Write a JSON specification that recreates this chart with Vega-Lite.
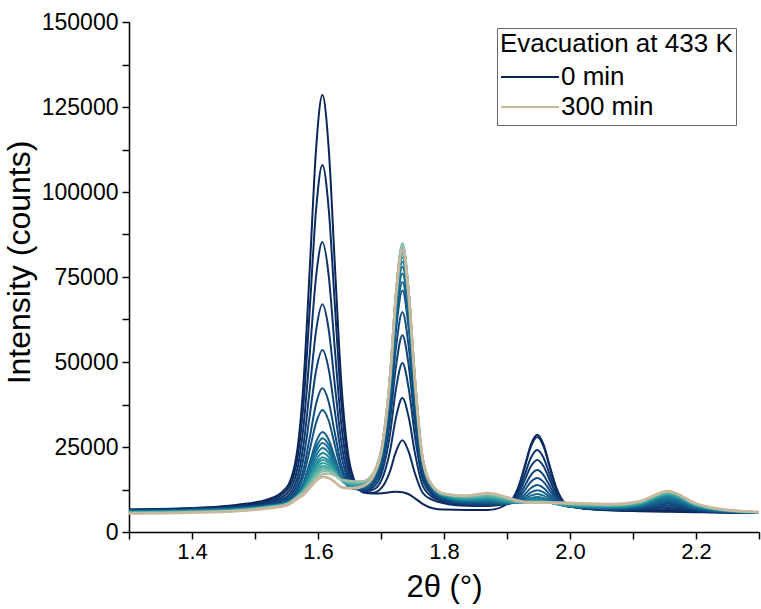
{
"$schema": "https://vega.github.io/schema/vega-lite/v6.json",
"width": 630, "height": 510,
"autosize": {"type": "none"},
"padding": {"left": 129, "top": 22, "right": 2, "bottom": 77},
"background": "white",
"config": {"view": {"stroke": null}, "font": "Liberation Sans"},
"datasets": {"curves": [
{"t":0,"x":1.3,"y":6620},{"t":0,"x":1.4,"y":7060},{"t":0,"x":1.47,"y":7970},{"t":0,"x":1.52,"y":9580},{"t":0,"x":1.55,"y":13040},{"t":0,"x":1.567,"y":23920},{"t":0,"x":1.577,"y":43870},{"t":0,"x":1.587,"y":77720},{"t":0,"x":1.597,"y":112780},{"t":0,"x":1.607,"y":128500},{"t":0,"x":1.617,"y":112780},{"t":0,"x":1.627,"y":77720},{"t":0,"x":1.637,"y":43870},{"t":0,"x":1.647,"y":23920},{"t":0,"x":1.657,"y":15460},{"t":0,"x":1.672,"y":11590},{"t":0,"x":1.688,"y":11300},{"t":0,"x":1.702,"y":11400},{"t":0,"x":1.714,"y":11700},{"t":0,"x":1.724,"y":11850},{"t":0,"x":1.734,"y":11700},{"t":0,"x":1.744,"y":11100},{"t":0,"x":1.754,"y":9900},{"t":0,"x":1.766,"y":8300},{"t":0,"x":1.782,"y":7000},{"t":0,"x":1.8,"y":6600},{"t":0,"x":1.835,"y":6500},{"t":0,"x":1.87,"y":6500},{"t":0,"x":1.9,"y":8160},{"t":0,"x":1.918,"y":13130},{"t":0,"x":1.928,"y":19320},{"t":0,"x":1.938,"y":25730},{"t":0,"x":1.948,"y":28600},{"t":0,"x":1.958,"y":25730},{"t":0,"x":1.968,"y":19320},{"t":0,"x":1.978,"y":13130},{"t":0,"x":1.993,"y":8390},{"t":0,"x":2.02,"y":6900},{"t":0,"x":2.07,"y":6300},{"t":0,"x":2.11,"y":6110},{"t":0,"x":2.156,"y":5950},{"t":0,"x":2.2,"y":5820},{"t":0,"x":2.24,"y":5710},{"t":0,"x":2.3,"y":5600},
{"t":15,"x":1.3,"y":6550},{"t":15,"x":1.4,"y":6950},{"t":15,"x":1.47,"y":7770},{"t":15,"x":1.52,"y":9210},{"t":15,"x":1.55,"y":12150},{"t":15,"x":1.567,"y":21260},{"t":15,"x":1.577,"y":37790},{"t":15,"x":1.587,"y":65850},{"t":15,"x":1.597,"y":94900},{"t":15,"x":1.607,"y":107960},{"t":15,"x":1.617,"y":95010},{"t":15,"x":1.627,"y":66070},{"t":15,"x":1.637,"y":38080},{"t":15,"x":1.647,"y":21760},{"t":15,"x":1.657,"y":14900},{"t":15,"x":1.672,"y":12010},{"t":15,"x":1.688,"y":11570},{"t":15,"x":1.702,"y":13240},{"t":15,"x":1.714,"y":17710},{"t":15,"x":1.724,"y":23780},{"t":15,"x":1.734,"y":27000},{"t":15,"x":1.744,"y":23570},{"t":15,"x":1.754,"y":17190},{"t":15,"x":1.766,"y":11550},{"t":15,"x":1.782,"y":9420},{"t":15,"x":1.8,"y":8470},{"t":15,"x":1.835,"y":7750},{"t":15,"x":1.87,"y":7640},{"t":15,"x":1.9,"y":8360},{"t":15,"x":1.918,"y":13070},{"t":15,"x":1.928,"y":18995},{"t":15,"x":1.938,"y":25187},{"t":15,"x":1.948,"y":27960},{"t":15,"x":1.958,"y":25184},{"t":15,"x":1.968,"y":18988},{"t":15,"x":1.978,"y":13013},{"t":15,"x":1.993,"y":8430},{"t":15,"x":2.02,"y":6985},{"t":15,"x":2.07,"y":6400},{"t":15,"x":2.11,"y":6265},{"t":15,"x":2.156,"y":6300},{"t":15,"x":2.2,"y":5940},{"t":15,"x":2.24,"y":5750},{"t":15,"x":2.3,"y":5615},
{"t":30,"x":1.3,"y":6480},{"t":30,"x":1.4,"y":6830},{"t":30,"x":1.47,"y":7550},{"t":30,"x":1.52,"y":8800},{"t":30,"x":1.55,"y":11150},{"t":30,"x":1.567,"y":18290},{"t":30,"x":1.577,"y":31070},{"t":30,"x":1.587,"y":52740},{"t":30,"x":1.597,"y":75170},{"t":30,"x":1.607,"y":85300},{"t":30,"x":1.617,"y":75380},{"t":30,"x":1.627,"y":53150},{"t":30,"x":1.637,"y":31600},{"t":30,"x":1.647,"y":19200},{"t":30,"x":1.657,"y":14050},{"t":30,"x":1.672,"y":12060},{"t":30,"x":1.688,"y":12480},{"t":30,"x":1.702,"y":15740},{"t":30,"x":1.714,"y":23530},{"t":30,"x":1.724,"y":33900},{"t":30,"x":1.734,"y":39400},{"t":30,"x":1.744,"y":33730},{"t":30,"x":1.754,"y":23100},{"t":30,"x":1.766,"y":13710},{"t":30,"x":1.782,"y":10220},{"t":30,"x":1.8,"y":8870},{"t":30,"x":1.835,"y":7970},{"t":30,"x":1.87,"y":7810},{"t":30,"x":1.9,"y":8290},{"t":30,"x":1.918,"y":12030},{"t":30,"x":1.928,"y":16810},{"t":30,"x":1.938,"y":21840},{"t":30,"x":1.948,"y":24100},{"t":30,"x":1.958,"y":21840},{"t":30,"x":1.968,"y":16800},{"t":30,"x":1.978,"y":11930},{"t":30,"x":1.993,"y":8190},{"t":30,"x":2.02,"y":6980},{"t":30,"x":2.07,"y":6480},{"t":30,"x":2.11,"y":6450},{"t":30,"x":2.156,"y":6800},{"t":30,"x":2.2,"y":6130},{"t":30,"x":2.24,"y":5810},{"t":30,"x":2.3,"y":5630},
{"t":45,"x":1.3,"y":6410},{"t":45,"x":1.4,"y":6730},{"t":45,"x":1.47,"y":7370},{"t":45,"x":1.52,"y":8460},{"t":45,"x":1.55,"y":10340},{"t":45,"x":1.567,"y":15910},{"t":45,"x":1.577,"y":25650},{"t":45,"x":1.587,"y":42160},{"t":45,"x":1.597,"y":59250},{"t":45,"x":1.607,"y":67000},{"t":45,"x":1.617,"y":59550},{"t":45,"x":1.627,"y":42750},{"t":45,"x":1.637,"y":26420},{"t":45,"x":1.647,"y":17180},{"t":45,"x":1.657,"y":13400},{"t":45,"x":1.672,"y":12150},{"t":45,"x":1.688,"y":13260},{"t":45,"x":1.702,"y":17820},{"t":45,"x":1.714,"y":28360},{"t":45,"x":1.724,"y":42310},{"t":45,"x":1.734,"y":49700},{"t":45,"x":1.744,"y":42170},{"t":45,"x":1.754,"y":28010},{"t":45,"x":1.766,"y":15510},{"t":45,"x":1.782,"y":10890},{"t":45,"x":1.8,"y":9210},{"t":45,"x":1.835,"y":8170},{"t":45,"x":1.87,"y":8000},{"t":45,"x":1.9,"y":8290},{"t":45,"x":1.918,"y":11270},{"t":45,"x":1.928,"y":15180},{"t":45,"x":1.938,"y":19340},{"t":45,"x":1.948,"y":21200},{"t":45,"x":1.958,"y":19330},{"t":45,"x":1.968,"y":15160},{"t":45,"x":1.978,"y":11130},{"t":45,"x":1.993,"y":8030},{"t":45,"x":2.02,"y":7010},{"t":45,"x":2.07,"y":6560},{"t":45,"x":2.11,"y":6640},{"t":45,"x":2.156,"y":7300},{"t":45,"x":2.2,"y":6320},{"t":45,"x":2.24,"y":5870},{"t":45,"x":2.3,"y":5645},
{"t":60,"x":1.3,"y":6345},{"t":60,"x":1.4,"y":6630},{"t":60,"x":1.47,"y":7220},{"t":60,"x":1.52,"y":8200},{"t":60,"x":1.55,"y":9750},{"t":60,"x":1.567,"y":14170},{"t":60,"x":1.577,"y":21670},{"t":60,"x":1.587,"y":34360},{"t":60,"x":1.597,"y":47490},{"t":60,"x":1.607,"y":53500},{"t":60,"x":1.617,"y":47870},{"t":60,"x":1.627,"y":35120},{"t":60,"x":1.637,"y":22660},{"t":60,"x":1.647,"y":15770},{"t":60,"x":1.657,"y":13010},{"t":60,"x":1.672,"y":12300},{"t":60,"x":1.688,"y":13930},{"t":60,"x":1.702,"y":19520},{"t":60,"x":1.714,"y":32240},{"t":60,"x":1.724,"y":49020},{"t":60,"x":1.734,"y":57900},{"t":60,"x":1.744,"y":48900},{"t":60,"x":1.754,"y":31930},{"t":60,"x":1.766,"y":16950},{"t":60,"x":1.782,"y":11430},{"t":60,"x":1.8,"y":9500},{"t":60,"x":1.835,"y":8360},{"t":60,"x":1.87,"y":8190},{"t":60,"x":1.9,"y":8270},{"t":60,"x":1.918,"y":10480},{"t":60,"x":1.928,"y":13500},{"t":60,"x":1.938,"y":16740},{"t":60,"x":1.948,"y":18200},{"t":60,"x":1.958,"y":16730},{"t":60,"x":1.968,"y":13460},{"t":60,"x":1.978,"y":10310},{"t":60,"x":1.993,"y":7860},{"t":60,"x":2.02,"y":7030},{"t":60,"x":2.07,"y":6650},{"t":60,"x":2.11,"y":6840},{"t":60,"x":2.156,"y":7800},{"t":60,"x":2.2,"y":6510},{"t":60,"x":2.24,"y":5930},{"t":60,"x":2.3,"y":5660},
{"t":75,"x":1.3,"y":6280},{"t":75,"x":1.4,"y":6550},{"t":75,"x":1.47,"y":7090},{"t":75,"x":1.52,"y":7980},{"t":75,"x":1.55,"y":9250},{"t":75,"x":1.567,"y":12740},{"t":75,"x":1.577,"y":18370},{"t":75,"x":1.587,"y":27900},{"t":75,"x":1.597,"y":37740},{"t":75,"x":1.607,"y":42300},{"t":75,"x":1.617,"y":38210},{"t":75,"x":1.627,"y":28830},{"t":75,"x":1.637,"y":19580},{"t":75,"x":1.647,"y":14650},{"t":75,"x":1.657,"y":12720},{"t":75,"x":1.672,"y":12450},{"t":75,"x":1.688,"y":14500},{"t":75,"x":1.702,"y":20930},{"t":75,"x":1.714,"y":35440},{"t":75,"x":1.724,"y":54570},{"t":75,"x":1.734,"y":64700},{"t":75,"x":1.744,"y":54460},{"t":75,"x":1.754,"y":35170},{"t":75,"x":1.766,"y":18150},{"t":75,"x":1.782,"y":11890},{"t":75,"x":1.8,"y":9750},{"t":75,"x":1.835,"y":8540},{"t":75,"x":1.87,"y":8380},{"t":75,"x":1.9,"y":8280},{"t":75,"x":1.918,"y":9900},{"t":75,"x":1.928,"y":12210},{"t":75,"x":1.938,"y":14760},{"t":75,"x":1.948,"y":15900},{"t":75,"x":1.958,"y":14740},{"t":75,"x":1.968,"y":12180},{"t":75,"x":1.978,"y":9690},{"t":75,"x":1.993,"y":7760},{"t":75,"x":2.02,"y":7080},{"t":75,"x":2.07,"y":6740},{"t":75,"x":2.11,"y":7030},{"t":75,"x":2.156,"y":8300},{"t":75,"x":2.2,"y":6700},{"t":75,"x":2.24,"y":5990},{"t":75,"x":2.3,"y":5680},
{"t":90,"x":1.3,"y":6230},{"t":90,"x":1.4,"y":6480},{"t":90,"x":1.47,"y":6990},{"t":90,"x":1.52,"y":7850},{"t":90,"x":1.55,"y":8980},{"t":90,"x":1.567,"y":11950},{"t":90,"x":1.577,"y":16520},{"t":90,"x":1.587,"y":24210},{"t":90,"x":1.597,"y":32160},{"t":90,"x":1.607,"y":35900},{"t":90,"x":1.617,"y":32720},{"t":90,"x":1.627,"y":25310},{"t":90,"x":1.637,"y":17940},{"t":90,"x":1.647,"y":14160},{"t":90,"x":1.657,"y":12730},{"t":90,"x":1.672,"y":12720},{"t":90,"x":1.688,"y":15120},{"t":90,"x":1.702,"y":22300},{"t":90,"x":1.714,"y":38450},{"t":90,"x":1.724,"y":59730},{"t":90,"x":1.734,"y":71000},{"t":90,"x":1.744,"y":59630},{"t":90,"x":1.754,"y":38190},{"t":90,"x":1.766,"y":19270},{"t":90,"x":1.782,"y":12330},{"t":90,"x":1.8,"y":9990},{"t":90,"x":1.835,"y":8730},{"t":90,"x":1.87,"y":8590},{"t":90,"x":1.9,"y":8330},{"t":90,"x":1.918,"y":9370},{"t":90,"x":1.928,"y":11050},{"t":90,"x":1.938,"y":12950},{"t":90,"x":1.948,"y":13800},{"t":90,"x":1.958,"y":12930},{"t":90,"x":1.968,"y":11000},{"t":90,"x":1.978,"y":9140},{"t":90,"x":1.993,"y":7670},{"t":90,"x":2.02,"y":7120},{"t":90,"x":2.07,"y":6830},{"t":90,"x":2.11,"y":7200},{"t":90,"x":2.156,"y":8700},{"t":90,"x":2.2,"y":6860},{"t":90,"x":2.24,"y":6040},{"t":90,"x":2.3,"y":5690},
{"t":105,"x":1.3,"y":6170},{"t":105,"x":1.4,"y":6410},{"t":105,"x":1.47,"y":6890},{"t":105,"x":1.52,"y":7710},{"t":105,"x":1.55,"y":8690},{"t":105,"x":1.567,"y":11150},{"t":105,"x":1.577,"y":14630},{"t":105,"x":1.587,"y":20470},{"t":105,"x":1.597,"y":26500},{"t":105,"x":1.607,"y":29400},{"t":105,"x":1.617,"y":27130},{"t":105,"x":1.627,"y":21720},{"t":105,"x":1.637,"y":16240},{"t":105,"x":1.647,"y":13580},{"t":105,"x":1.657,"y":12620},{"t":105,"x":1.672,"y":12810},{"t":105,"x":1.688,"y":15350},{"t":105,"x":1.702,"y":22830},{"t":105,"x":1.714,"y":39640},{"t":105,"x":1.724,"y":61780},{"t":105,"x":1.734,"y":73500},{"t":105,"x":1.744,"y":61680},{"t":105,"x":1.754,"y":39390},{"t":105,"x":1.766,"y":19720},{"t":105,"x":1.782,"y":12500},{"t":105,"x":1.8,"y":10120},{"t":105,"x":1.835,"y":8870},{"t":105,"x":1.87,"y":8770},{"t":105,"x":1.9,"y":8380},{"t":105,"x":1.918,"y":9020},{"t":105,"x":1.928,"y":10230},{"t":105,"x":1.938,"y":11660},{"t":105,"x":1.948,"y":12300},{"t":105,"x":1.958,"y":11640},{"t":105,"x":1.968,"y":10180},{"t":105,"x":1.978,"y":8760},{"t":105,"x":1.993,"y":7630},{"t":105,"x":2.02,"y":7180},{"t":105,"x":2.07,"y":6920},{"t":105,"x":2.11,"y":7370},{"t":105,"x":2.156,"y":9100},{"t":105,"x":2.2,"y":7020},{"t":105,"x":2.24,"y":6100},{"t":105,"x":2.3,"y":5710},
{"t":120,"x":1.3,"y":6120},{"t":120,"x":1.4,"y":6350},{"t":120,"x":1.47,"y":6830},{"t":120,"x":1.52,"y":7650},{"t":120,"x":1.55,"y":8610},{"t":120,"x":1.567,"y":10970},{"t":120,"x":1.577,"y":14140},{"t":120,"x":1.587,"y":19440},{"t":120,"x":1.597,"y":24920},{"t":120,"x":1.607,"y":27600},{"t":120,"x":1.617,"y":25630},{"t":120,"x":1.627,"y":20840},{"t":120,"x":1.637,"y":15940},{"t":120,"x":1.647,"y":13640},{"t":120,"x":1.657,"y":12810},{"t":120,"x":1.672,"y":13050},{"t":120,"x":1.688,"y":15680},{"t":120,"x":1.702,"y":23430},{"t":120,"x":1.714,"y":40860},{"t":120,"x":1.724,"y":63840},{"t":120,"x":1.734,"y":76000},{"t":120,"x":1.744,"y":63730},{"t":120,"x":1.754,"y":40600},{"t":120,"x":1.766,"y":20190},{"t":120,"x":1.782,"y":12700},{"t":120,"x":1.8,"y":10270},{"t":120,"x":1.835,"y":9030},{"t":120,"x":1.87,"y":8970},{"t":120,"x":1.9,"y":8480},{"t":120,"x":1.918,"y":8790},{"t":120,"x":1.928,"y":9640},{"t":120,"x":1.938,"y":10720},{"t":120,"x":1.948,"y":11200},{"t":120,"x":1.958,"y":10690},{"t":120,"x":1.968,"y":9580},{"t":120,"x":1.978,"y":8510},{"t":120,"x":1.993,"y":7640},{"t":120,"x":2.02,"y":7260},{"t":120,"x":2.07,"y":7020},{"t":120,"x":2.11,"y":7540},{"t":120,"x":2.156,"y":9500},{"t":120,"x":2.2,"y":7180},{"t":120,"x":2.24,"y":6150},{"t":120,"x":2.3,"y":5720},
{"t":135,"x":1.3,"y":6070},{"t":135,"x":1.4,"y":6300},{"t":135,"x":1.47,"y":6770},{"t":135,"x":1.52,"y":7600},{"t":135,"x":1.55,"y":8550},{"t":135,"x":1.567,"y":10850},{"t":135,"x":1.577,"y":13780},{"t":135,"x":1.587,"y":18660},{"t":135,"x":1.597,"y":23700},{"t":135,"x":1.607,"y":26200},{"t":135,"x":1.617,"y":24480},{"t":135,"x":1.627,"y":20200},{"t":135,"x":1.637,"y":15770},{"t":135,"x":1.647,"y":13740},{"t":135,"x":1.657,"y":13010},{"t":135,"x":1.672,"y":13280},{"t":135,"x":1.688,"y":15960},{"t":135,"x":1.702,"y":23910},{"t":135,"x":1.714,"y":41840},{"t":135,"x":1.724,"y":65480},{"t":135,"x":1.734,"y":78000},{"t":135,"x":1.744,"y":65370},{"t":135,"x":1.754,"y":41570},{"t":135,"x":1.766,"y":20560},{"t":135,"x":1.782,"y":12870},{"t":135,"x":1.8,"y":10400},{"t":135,"x":1.835,"y":9180},{"t":135,"x":1.87,"y":9180},{"t":135,"x":1.9,"y":8570},{"t":135,"x":1.918,"y":8620},{"t":135,"x":1.928,"y":9170},{"t":135,"x":1.938,"y":9950},{"t":135,"x":1.948,"y":10300},{"t":135,"x":1.958,"y":9930},{"t":135,"x":1.968,"y":9110},{"t":135,"x":1.978,"y":8310},{"t":135,"x":1.993,"y":7660},{"t":135,"x":2.02,"y":7340},{"t":135,"x":2.07,"y":7120},{"t":135,"x":2.11,"y":7710},{"t":135,"x":2.156,"y":9900},{"t":135,"x":2.2,"y":7340},{"t":135,"x":2.24,"y":6210},{"t":135,"x":2.3,"y":5730},
{"t":150,"x":1.3,"y":6010},{"t":150,"x":1.4,"y":6240},{"t":150,"x":1.47,"y":6710},{"t":150,"x":1.52,"y":7550},{"t":150,"x":1.55,"y":8480},{"t":150,"x":1.567,"y":10720},{"t":150,"x":1.577,"y":13390},{"t":150,"x":1.587,"y":17810},{"t":150,"x":1.597,"y":22380},{"t":150,"x":1.607,"y":24700},{"t":150,"x":1.617,"y":23250},{"t":150,"x":1.627,"y":19500},{"t":150,"x":1.637,"y":15560},{"t":150,"x":1.647,"y":13820},{"t":150,"x":1.657,"y":13190},{"t":150,"x":1.672,"y":13480},{"t":150,"x":1.688,"y":16180},{"t":150,"x":1.702,"y":24290},{"t":150,"x":1.714,"y":42580},{"t":150,"x":1.724,"y":66720},{"t":150,"x":1.734,"y":79500},{"t":150,"x":1.744,"y":66600},{"t":150,"x":1.754,"y":42300},{"t":150,"x":1.766,"y":20840},{"t":150,"x":1.782,"y":12990},{"t":150,"x":1.8,"y":10510},{"t":150,"x":1.835,"y":9330},{"t":150,"x":1.87,"y":9380},{"t":150,"x":1.9,"y":8700},{"t":150,"x":1.918,"y":8560},{"t":150,"x":1.928,"y":8940},{"t":150,"x":1.938,"y":9530},{"t":150,"x":1.948,"y":9800},{"t":150,"x":1.958,"y":9500},{"t":150,"x":1.968,"y":8860},{"t":150,"x":1.978,"y":8240},{"t":150,"x":1.993,"y":7710},{"t":150,"x":2.02,"y":7420},{"t":150,"x":2.07,"y":7220},{"t":150,"x":2.11,"y":7850},{"t":150,"x":2.156,"y":10200},{"t":150,"x":2.2,"y":7460},{"t":150,"x":2.24,"y":6260},{"t":150,"x":2.3,"y":5750},
{"t":165,"x":1.3,"y":5960},{"t":165,"x":1.4,"y":6190},{"t":165,"x":1.47,"y":6650},{"t":165,"x":1.52,"y":7490},{"t":165,"x":1.55,"y":8410},{"t":165,"x":1.567,"y":10580},{"t":165,"x":1.577,"y":13000},{"t":165,"x":1.587,"y":16970},{"t":165,"x":1.597,"y":21080},{"t":165,"x":1.607,"y":23200},{"t":165,"x":1.617,"y":22020},{"t":165,"x":1.627,"y":18810},{"t":165,"x":1.637,"y":15350},{"t":165,"x":1.647,"y":13890},{"t":165,"x":1.657,"y":13370},{"t":165,"x":1.672,"y":13680},{"t":165,"x":1.688,"y":16390},{"t":165,"x":1.702,"y":24620},{"t":165,"x":1.714,"y":43230},{"t":165,"x":1.724,"y":67790},{"t":165,"x":1.734,"y":80800},{"t":165,"x":1.744,"y":67670},{"t":165,"x":1.754,"y":42930},{"t":165,"x":1.766,"y":21100},{"t":165,"x":1.782,"y":13100},{"t":165,"x":1.8,"y":10620},{"t":165,"x":1.835,"y":9480},{"t":165,"x":1.87,"y":9600},{"t":165,"x":1.9,"y":8850},{"t":165,"x":1.918,"y":8570},{"t":165,"x":1.928,"y":8810},{"t":165,"x":1.938,"y":9290},{"t":165,"x":1.948,"y":9500},{"t":165,"x":1.958,"y":9250},{"t":165,"x":1.968,"y":8730},{"t":165,"x":1.978,"y":8220},{"t":165,"x":1.993,"y":7780},{"t":165,"x":2.02,"y":7520},{"t":165,"x":2.07,"y":7320},{"t":165,"x":2.11,"y":8000},{"t":165,"x":2.156,"y":10500},{"t":165,"x":2.2,"y":7590},{"t":165,"x":2.24,"y":6310},{"t":165,"x":2.3,"y":5760},
{"t":180,"x":1.3,"y":5910},{"t":180,"x":1.4,"y":6130},{"t":180,"x":1.47,"y":6600},{"t":180,"x":1.52,"y":7440},{"t":180,"x":1.55,"y":8360},{"t":180,"x":1.567,"y":10490},{"t":180,"x":1.577,"y":12700},{"t":180,"x":1.587,"y":16290},{"t":180,"x":1.597,"y":20030},{"t":180,"x":1.607,"y":22000},{"t":180,"x":1.617,"y":21040},{"t":180,"x":1.627,"y":18280},{"t":180,"x":1.637,"y":15230},{"t":180,"x":1.647,"y":14000},{"t":180,"x":1.657,"y":13560},{"t":180,"x":1.672,"y":13860},{"t":180,"x":1.688,"y":16570},{"t":180,"x":1.702,"y":24890},{"t":180,"x":1.714,"y":43730},{"t":180,"x":1.724,"y":68620},{"t":180,"x":1.734,"y":81800},{"t":180,"x":1.744,"y":68490},{"t":180,"x":1.754,"y":43420},{"t":180,"x":1.766,"y":21290},{"t":180,"x":1.782,"y":13200},{"t":180,"x":1.8,"y":10720},{"t":180,"x":1.835,"y":9620},{"t":180,"x":1.87,"y":9810},{"t":180,"x":1.9,"y":9000},{"t":180,"x":1.918,"y":8600},{"t":180,"x":1.928,"y":8750},{"t":180,"x":1.938,"y":9130},{"t":180,"x":1.948,"y":9300},{"t":180,"x":1.958,"y":9090},{"t":180,"x":1.968,"y":8660},{"t":180,"x":1.978,"y":8240},{"t":180,"x":1.993,"y":7860},{"t":180,"x":2.02,"y":7610},{"t":180,"x":2.07,"y":7420},{"t":180,"x":2.11,"y":8150},{"t":180,"x":2.156,"y":10800},{"t":180,"x":2.2,"y":7720},{"t":180,"x":2.24,"y":6360},{"t":180,"x":2.3,"y":5770},
{"t":195,"x":1.3,"y":5860},{"t":195,"x":1.4,"y":6080},{"t":195,"x":1.47,"y":6540},{"t":195,"x":1.52,"y":7400},{"t":195,"x":1.55,"y":8320},{"t":195,"x":1.567,"y":10440},{"t":195,"x":1.577,"y":12510},{"t":195,"x":1.587,"y":15850},{"t":195,"x":1.597,"y":19320},{"t":195,"x":1.607,"y":21200},{"t":195,"x":1.617,"y":20400},{"t":195,"x":1.627,"y":17980},{"t":195,"x":1.637,"y":15220},{"t":195,"x":1.647,"y":14170},{"t":195,"x":1.657,"y":13760},{"t":195,"x":1.672,"y":14040},{"t":195,"x":1.688,"y":16740},{"t":195,"x":1.702,"y":25120},{"t":195,"x":1.714,"y":44140},{"t":195,"x":1.724,"y":69290},{"t":195,"x":1.734,"y":82600},{"t":195,"x":1.744,"y":69150},{"t":195,"x":1.754,"y":43810},{"t":195,"x":1.766,"y":21460},{"t":195,"x":1.782,"y":13270},{"t":195,"x":1.8,"y":10820},{"t":195,"x":1.835,"y":9770},{"t":195,"x":1.87,"y":10020},{"t":195,"x":1.9,"y":9150},{"t":195,"x":1.918,"y":8640},{"t":195,"x":1.928,"y":8690},{"t":195,"x":1.938,"y":8970},{"t":195,"x":1.948,"y":9100},{"t":195,"x":1.958,"y":8930},{"t":195,"x":1.968,"y":8590},{"t":195,"x":1.978,"y":8250},{"t":195,"x":1.993,"y":7940},{"t":195,"x":2.02,"y":7710},{"t":195,"x":2.07,"y":7520},{"t":195,"x":2.11,"y":8270},{"t":195,"x":2.156,"y":11000},{"t":195,"x":2.2,"y":7820},{"t":195,"x":2.24,"y":6400},{"t":195,"x":2.3,"y":5780},
{"t":210,"x":1.3,"y":5810},{"t":210,"x":1.4,"y":6030},{"t":210,"x":1.47,"y":6490},{"t":210,"x":1.52,"y":7350},{"t":210,"x":1.55,"y":8280},{"t":210,"x":1.567,"y":10390},{"t":210,"x":1.577,"y":12300},{"t":210,"x":1.587,"y":15350},{"t":210,"x":1.597,"y":18530},{"t":210,"x":1.607,"y":20300},{"t":210,"x":1.617,"y":19690},{"t":210,"x":1.627,"y":17620},{"t":210,"x":1.637,"y":15190},{"t":210,"x":1.647,"y":14320},{"t":210,"x":1.657,"y":13960},{"t":210,"x":1.672,"y":14220},{"t":210,"x":1.688,"y":16900},{"t":210,"x":1.702,"y":25320},{"t":210,"x":1.714,"y":44500},{"t":210,"x":1.724,"y":69870},{"t":210,"x":1.734,"y":83300},{"t":210,"x":1.744,"y":69720},{"t":210,"x":1.754,"y":44160},{"t":210,"x":1.766,"y":21600},{"t":210,"x":1.782,"y":13350},{"t":210,"x":1.8,"y":10910},{"t":210,"x":1.835,"y":9910},{"t":210,"x":1.87,"y":10240},{"t":210,"x":1.9,"y":9300},{"t":210,"x":1.918,"y":8700},{"t":210,"x":1.928,"y":8680},{"t":210,"x":1.938,"y":8900},{"t":210,"x":1.948,"y":9000},{"t":210,"x":1.958,"y":8860},{"t":210,"x":1.968,"y":8570},{"t":210,"x":1.978,"y":8300},{"t":210,"x":1.993,"y":8030},{"t":210,"x":2.02,"y":7810},{"t":210,"x":2.07,"y":7620},{"t":210,"x":2.11,"y":8390},{"t":210,"x":2.156,"y":11200},{"t":210,"x":2.2,"y":7920},{"t":210,"x":2.24,"y":6450},{"t":210,"x":2.3,"y":5800},
{"t":225,"x":1.3,"y":5760},{"t":225,"x":1.4,"y":5970},{"t":225,"x":1.47,"y":6430},{"t":225,"x":1.52,"y":7310},{"t":225,"x":1.55,"y":8240},{"t":225,"x":1.567,"y":10350},{"t":225,"x":1.577,"y":12110},{"t":225,"x":1.587,"y":14900},{"t":225,"x":1.597,"y":17830},{"t":225,"x":1.607,"y":19500},{"t":225,"x":1.617,"y":19060},{"t":225,"x":1.627,"y":17320},{"t":225,"x":1.637,"y":15180},{"t":225,"x":1.647,"y":14470},{"t":225,"x":1.657,"y":14160},{"t":225,"x":1.672,"y":14410},{"t":225,"x":1.688,"y":17050},{"t":225,"x":1.702,"y":25510},{"t":225,"x":1.714,"y":44820},{"t":225,"x":1.724,"y":70360},{"t":225,"x":1.734,"y":83900},{"t":225,"x":1.744,"y":70220},{"t":225,"x":1.754,"y":44460},{"t":225,"x":1.766,"y":21730},{"t":225,"x":1.782,"y":13420},{"t":225,"x":1.8,"y":11000},{"t":225,"x":1.835,"y":10050},{"t":225,"x":1.87,"y":10450},{"t":225,"x":1.9,"y":9450},{"t":225,"x":1.918,"y":8770},{"t":225,"x":1.928,"y":8680},{"t":225,"x":1.938,"y":8830},{"t":225,"x":1.948,"y":8900},{"t":225,"x":1.958,"y":8790},{"t":225,"x":1.968,"y":8560},{"t":225,"x":1.978,"y":8340},{"t":225,"x":1.993,"y":8120},{"t":225,"x":2.02,"y":7900},{"t":225,"x":2.07,"y":7720},{"t":225,"x":2.11,"y":8500},{"t":225,"x":2.156,"y":11400},{"t":225,"x":2.2,"y":8010},{"t":225,"x":2.24,"y":6490},{"t":225,"x":2.3,"y":5810},
{"t":240,"x":1.3,"y":5710},{"t":240,"x":1.4,"y":5920},{"t":240,"x":1.47,"y":6380},{"t":240,"x":1.52,"y":7270},{"t":240,"x":1.55,"y":8220},{"t":240,"x":1.567,"y":10340},{"t":240,"x":1.577,"y":12020},{"t":240,"x":1.587,"y":14640},{"t":240,"x":1.597,"y":17390},{"t":240,"x":1.607,"y":19000},{"t":240,"x":1.617,"y":18690},{"t":240,"x":1.627,"y":17200},{"t":240,"x":1.637,"y":15260},{"t":240,"x":1.647,"y":14670},{"t":240,"x":1.657,"y":14380},{"t":240,"x":1.672,"y":14590},{"t":240,"x":1.688,"y":17210},{"t":240,"x":1.702,"y":25680},{"t":240,"x":1.714,"y":45100},{"t":240,"x":1.724,"y":70800},{"t":240,"x":1.734,"y":84400},{"t":240,"x":1.744,"y":70640},{"t":240,"x":1.754,"y":44720},{"t":240,"x":1.766,"y":21850},{"t":240,"x":1.782,"y":13480},{"t":240,"x":1.8,"y":11080},{"t":240,"x":1.835,"y":10200},{"t":240,"x":1.87,"y":10660},{"t":240,"x":1.9,"y":9610},{"t":240,"x":1.918,"y":8830},{"t":240,"x":1.928,"y":8670},{"t":240,"x":1.938,"y":8760},{"t":240,"x":1.948,"y":8800},{"t":240,"x":1.958,"y":8710},{"t":240,"x":1.968,"y":8550},{"t":240,"x":1.978,"y":8390},{"t":240,"x":1.993,"y":8210},{"t":240,"x":2.02,"y":8000},{"t":240,"x":2.07,"y":7810},{"t":240,"x":2.11,"y":8620},{"t":240,"x":2.156,"y":11600},{"t":240,"x":2.2,"y":8110},{"t":240,"x":2.24,"y":6540},{"t":240,"x":2.3,"y":5820},
{"t":255,"x":1.3,"y":5660},{"t":255,"x":1.4,"y":5870},{"t":255,"x":1.47,"y":6320},{"t":255,"x":1.52,"y":7230},{"t":255,"x":1.55,"y":8190},{"t":255,"x":1.567,"y":10330},{"t":255,"x":1.577,"y":11900},{"t":255,"x":1.587,"y":14310},{"t":255,"x":1.597,"y":16850},{"t":255,"x":1.607,"y":18400},{"t":255,"x":1.617,"y":18230},{"t":255,"x":1.627,"y":17010},{"t":255,"x":1.637,"y":15310},{"t":255,"x":1.647,"y":14840},{"t":255,"x":1.657,"y":14590},{"t":255,"x":1.672,"y":14760},{"t":255,"x":1.688,"y":17340},{"t":255,"x":1.702,"y":25820},{"t":255,"x":1.714,"y":45320},{"t":255,"x":1.724,"y":71130},{"t":255,"x":1.734,"y":84800},{"t":255,"x":1.744,"y":70960},{"t":255,"x":1.754,"y":44920},{"t":255,"x":1.766,"y":21930},{"t":255,"x":1.782,"y":13540},{"t":255,"x":1.8,"y":11160},{"t":255,"x":1.835,"y":10340},{"t":255,"x":1.87,"y":10870},{"t":255,"x":1.9,"y":9770},{"t":255,"x":1.918,"y":8920},{"t":255,"x":1.928,"y":8720},{"t":255,"x":1.938,"y":8780},{"t":255,"x":1.948,"y":8800},{"t":255,"x":1.958,"y":8720},{"t":255,"x":1.968,"y":8590},{"t":255,"x":1.978,"y":8460},{"t":255,"x":1.993,"y":8310},{"t":255,"x":2.02,"y":8100},{"t":255,"x":2.07,"y":7910},{"t":255,"x":2.11,"y":8710},{"t":255,"x":2.156,"y":11700},{"t":255,"x":2.2,"y":8180},{"t":255,"x":2.24,"y":6580},{"t":255,"x":2.3,"y":5830},
{"t":270,"x":1.3,"y":5605},{"t":270,"x":1.4,"y":5815},{"t":270,"x":1.47,"y":6270},{"t":270,"x":1.52,"y":7190},{"t":270,"x":1.55,"y":8160},{"t":270,"x":1.567,"y":10310},{"t":270,"x":1.577,"y":11770},{"t":270,"x":1.587,"y":13980},{"t":270,"x":1.597,"y":16330},{"t":270,"x":1.607,"y":17800},{"t":270,"x":1.617,"y":17780},{"t":270,"x":1.627,"y":16830},{"t":270,"x":1.637,"y":15360},{"t":270,"x":1.647,"y":15020},{"t":270,"x":1.657,"y":14800},{"t":270,"x":1.672,"y":14930},{"t":270,"x":1.688,"y":17460},{"t":270,"x":1.702,"y":25930},{"t":270,"x":1.714,"y":45440},{"t":270,"x":1.724,"y":71310},{"t":270,"x":1.734,"y":85000},{"t":270,"x":1.744,"y":71140},{"t":270,"x":1.754,"y":45020},{"t":270,"x":1.766,"y":21990},{"t":270,"x":1.782,"y":13570},{"t":270,"x":1.8,"y":11230},{"t":270,"x":1.835,"y":10470},{"t":270,"x":1.87,"y":11080},{"t":270,"x":1.9,"y":9920},{"t":270,"x":1.918,"y":8990},{"t":270,"x":1.928,"y":8720},{"t":270,"x":1.938,"y":8710},{"t":270,"x":1.948,"y":8700},{"t":270,"x":1.958,"y":8650},{"t":270,"x":1.968,"y":8580},{"t":270,"x":1.978,"y":8510},{"t":270,"x":1.993,"y":8400},{"t":270,"x":2.02,"y":8190},{"t":270,"x":2.07,"y":8000},{"t":270,"x":2.11,"y":8800},{"t":270,"x":2.156,"y":11800},{"t":270,"x":2.2,"y":8250},{"t":270,"x":2.24,"y":6620},{"t":270,"x":2.3,"y":5840},
{"t":285,"x":1.3,"y":5550},{"t":285,"x":1.4,"y":5760},{"t":285,"x":1.47,"y":6210},{"t":285,"x":1.52,"y":7150},{"t":285,"x":1.55,"y":8130},{"t":285,"x":1.567,"y":10270},{"t":285,"x":1.577,"y":11590},{"t":285,"x":1.587,"y":13540},{"t":285,"x":1.597,"y":15620},{"t":285,"x":1.607,"y":17000},{"t":285,"x":1.617,"y":17140},{"t":285,"x":1.627,"y":16520},{"t":285,"x":1.637,"y":15350},{"t":285,"x":1.647,"y":15140},{"t":285,"x":1.657,"y":14950},{"t":285,"x":1.672,"y":15030},{"t":285,"x":1.688,"y":17460},{"t":285,"x":1.702,"y":25810},{"t":285,"x":1.714,"y":45080},{"t":285,"x":1.724,"y":70660},{"t":285,"x":1.734,"y":84200},{"t":285,"x":1.744,"y":70480},{"t":285,"x":1.754,"y":44650},{"t":285,"x":1.766,"y":21860},{"t":285,"x":1.782,"y":13550},{"t":285,"x":1.8,"y":11280},{"t":285,"x":1.835,"y":10600},{"t":285,"x":1.87,"y":11280},{"t":285,"x":1.9,"y":10080},{"t":285,"x":1.918,"y":9080},{"t":285,"x":1.928,"y":8770},{"t":285,"x":1.938,"y":8720},{"t":285,"x":1.948,"y":8700},{"t":285,"x":1.958,"y":8660},{"t":285,"x":1.968,"y":8620},{"t":285,"x":1.978,"y":8580},{"t":285,"x":1.993,"y":8500},{"t":285,"x":2.02,"y":8290},{"t":285,"x":2.07,"y":8100},{"t":285,"x":2.11,"y":8900},{"t":285,"x":2.156,"y":11900},{"t":285,"x":2.2,"y":8310},{"t":285,"x":2.24,"y":6660},{"t":285,"x":2.3,"y":5850},
{"t":300,"x":1.3,"y":5500},{"t":300,"x":1.4,"y":5710},{"t":300,"x":1.47,"y":6130},{"t":300,"x":1.52,"y":6960},{"t":300,"x":1.55,"y":7790},{"t":300,"x":1.567,"y":9750},{"t":300,"x":1.577,"y":10980},{"t":300,"x":1.587,"y":12960},{"t":300,"x":1.597,"y":15010},{"t":300,"x":1.607,"y":16190},{"t":300,"x":1.617,"y":15880},{"t":300,"x":1.627,"y":14670},{"t":300,"x":1.637,"y":13170},{"t":300,"x":1.647,"y":12910},{"t":300,"x":1.657,"y":12930},{"t":300,"x":1.672,"y":13560},{"t":300,"x":1.688,"y":16540},{"t":300,"x":1.702,"y":25100},{"t":300,"x":1.714,"y":44280},{"t":300,"x":1.724,"y":69580},{"t":300,"x":1.734,"y":83000},{"t":300,"x":1.744,"y":69460},{"t":300,"x":1.754,"y":44020},{"t":300,"x":1.766,"y":21590},{"t":300,"x":1.782,"y":13400},{"t":300,"x":1.8,"y":11230},{"t":300,"x":1.835,"y":10670},{"t":300,"x":1.87,"y":11450},{"t":300,"x":1.9,"y":10200},{"t":300,"x":1.918,"y":9170},{"t":300,"x":1.928,"y":8820},{"t":300,"x":1.938,"y":8740},{"t":300,"x":1.948,"y":8700},{"t":300,"x":1.958,"y":8680},{"t":300,"x":1.968,"y":8670},{"t":300,"x":1.978,"y":8660},{"t":300,"x":1.993,"y":8600},{"t":300,"x":2.02,"y":8390},{"t":300,"x":2.07,"y":8190},{"t":300,"x":2.11,"y":8990},{"t":300,"x":2.156,"y":12000},{"t":300,"x":2.2,"y":8380},{"t":300,"x":2.24,"y":6700},{"t":300,"x":2.3,"y":5860}
]},
"data": {"name": "curves"},
"mark": {"type": "line", "interpolate": "monotone", "clip": true},
"encoding": {
  "x": {"field": "x", "type": "quantitative",
    "scale": {"domain": [1.3, 2.3], "nice": false, "zero": false},
    "axis": {"title": "2θ (°)", "values": [1.3,1.4,1.5,1.6,1.7,1.8,1.9,2.0,2.1,2.2,2.3],
      "labelExpr": "(round(datum.value*10) % 2 == 0) ? format(datum.value, '.1f') : ''",
      "grid": false, "tickSize": 7, "tickColor": "black", "tickWidth": 1.5, "domainColor": "black", "domainWidth": 1.5,
      "labelFontSize": 22, "labelColor": "black", "labelPadding": 2, "labelOverlap": false, "labelFlush": false,
      "titleFontSize": 31, "titleFontWeight": "normal", "titleColor": "black", "titlePadding": 10}},
  "y": {"field": "y", "type": "quantitative",
    "scale": {"domain": [0, 150000], "nice": false},
    "axis": {"title": "Intensity (counts)", "values": [0,12500,25000,37500,50000,62500,75000,87500,100000,112500,125000,137500,150000],
      "labelExpr": "(datum.value % 25000 == 0) ? '' + datum.value : ''",
      "grid": false, "tickSize": 7, "tickColor": "black", "tickWidth": 1.5, "domainColor": "black", "domainWidth": 1.5,
      "labelFontSize": 23, "labelColor": "black", "labelPadding": 4, "labelOverlap": false, "labelFlush": false,
      "titleFontSize": 32, "titleFontWeight": "normal", "titleColor": "black", "titlePadding": 5, "titleY": 240}},
  "strokeWidth": {"condition": {"test": "datum.t == 300", "value": 2.8}, "value": 2},
  "color": {"field": "t", "type": "ordinal",
    "scale": {"domain": [0,15,30,45,60,75,90,105,120,135,150,165,180,195,210,225,240,255,270,285,300],
      "range": ["#0b2559","#0d2c61","#0e3369","#0f3b71","#104379","#114c80","#125586","#135e8b","#156790","#177094","#1a7a98","#1f849b","#258e9e","#2e98a0","#39a1a2","#46aaa4","#55b2a6","#68b8a8","#85bcaa","#a9bca6","#c8b89e"]},
    "legend": {"title": "Evacuation at 433 K", "values": [0, 300], "labelExpr": "datum.label + ' min'",
      "orient": "none", "legendX": 368, "legendY": 6, "symbolType": "stroke", "symbolSize": 3364, "symbolStrokeWidth": 2,
      "clipHeight": 30,
      "titleFontSize": 26, "titleFontWeight": "normal", "titleColor": "black", "titleFont": "Liberation Sans", "titleLimit": 400,
      "labelFontSize": 26, "labelColor": "black", "labelFont": "Liberation Sans", "labelLimit": 300,
      "strokeColor": "#666", "fillColor": "white", "padding": 3, "rowPadding": 0, "labelOffset": 1, "titlePadding": 5}}
}
}
